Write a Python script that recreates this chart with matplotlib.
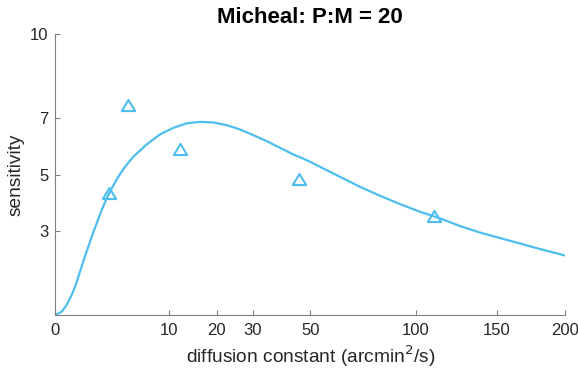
import numpy as np
import matplotlib
matplotlib.use("Agg")
import matplotlib.pyplot as plt
from matplotlib.path import Path

# data
point_x = [2.23, 4.02, 11.9, 45.8, 110.4]
point_y = [4.36, 7.47, 5.91, 4.83, 3.53]

curve_x = [0, 0.0296, 0.0966, 0.202, 0.314, 0.462, 0.639, 0.829, 1.043, 1.308,
           1.645, 2.02, 2.433, 3.04, 3.72, 4.66, 6.41, 8.41, 10.69, 13.26, 16.09,
           19.18, 22.58, 26.22, 30.14, 34.37, 38.83, 43.57, 48.62, 53.9, 62.36,
           71.43, 81.13, 91.45, 102.36, 113.92, 126.06, 138.84, 152.22, 166.24,
           180.84, 200]
curve_y = [0, 0.117, 0.356, 0.712, 1.068, 1.541, 2.018, 2.431, 2.847, 3.263,
           3.737, 4.153, 4.509, 4.922, 5.278, 5.633, 6.075, 6.431, 6.665, 6.826, 6.879,
           6.858, 6.762, 6.609, 6.406, 6.192, 5.954, 5.719, 5.516, 5.278, 4.922,
           4.566, 4.246, 3.950, 3.676, 3.441, 3.167, 2.936, 2.74, 2.545,
           2.349, 2.117]

xticks = [0, 10, 20, 30, 50, 100, 150, 200]
yticks = [3, 5, 7, 10]

plt.rcParams['font.family'] = ['Liberation Sans', 'DejaVu Sans']

color = '#4DBEEE'
axcol = '#808080'
txtcol = '#262626'

fig = plt.figure(figsize=(5.78, 3.79), dpi=100)
ax = fig.add_axes([0.096, 0.169, 0.8815, 0.7406])

ax.set_xscale('function', functions=(lambda v: np.sqrt(np.clip(v, 0, None)), np.square))

ax.plot(curve_x, curve_y, color=color, lw=1.6, solid_capstyle='round',
        solid_joinstyle='round', zorder=2)

tri = Path([(-1.2, -1.0), (1.2, -1.0), (0.0, 1.0), (-1.2, -1.0)],
           [Path.MOVETO, Path.LINETO, Path.LINETO, Path.CLOSEPOLY])
ax.plot(point_x, point_y, linestyle='none', marker=tri, ms=9.6,
        mfc='none', mec=color, mew=1.5, zorder=3)

ax.set_xlim(0, 200)
ax.set_ylim(0, 10)
ax.set_xticks(xticks)
ax.set_xticklabels([str(t) for t in xticks])
ax.set_yticks(yticks)
ax.set_yticklabels([str(t) for t in yticks])
ax.minorticks_off()

for s in ['top', 'right']:
    ax.spines[s].set_visible(False)
for s in ['left', 'bottom']:
    ax.spines[s].set_color(axcol)
    ax.spines[s].set_linewidth(0.8)

ax.tick_params(direction='in', length=3.5, width=0.8, color=axcol,
               labelcolor=txtcol, labelsize=12)
ax.tick_params(axis='x', pad=6)
ax.tick_params(axis='y', pad=5)

ax.set_xlabel('diffusion constant (arcmin$^2$/s)', fontsize=13.8, color=txtcol, labelpad=4)
ax.set_ylabel('sensitivity', fontsize=13.8, color=txtcol, labelpad=4)
ax.set_title('Micheal: P:M = 20', fontsize=16, fontweight='bold', color='black', pad=8)

fig.savefig('out.png', dpi=100)
